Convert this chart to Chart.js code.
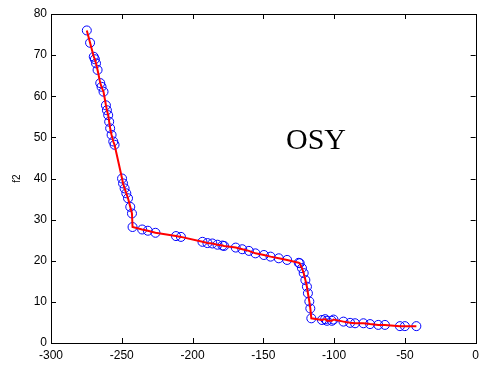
<!DOCTYPE html>
<html>
<head>
<meta charset="utf-8">
<script src="https://cdn.jsdelivr.net/npm/chart.js@4"></script>
<style>
  html, body { margin: 0; padding: 0; background: #fff; }
  #wrap { width: 484px; height: 367px; }
</style>
</head>
<body>
<div id="wrap"><canvas id="myChart" width="484" height="367"></canvas></div>
<script>
// pareto front points (f1, f2)
const f1 = [
  -274.7, -272.4, -269.8, -269.0, -268.2, -267.1, -265.2, -264.3, -262.9, -261.2,
  -260.5, -259.6, -258.9, -258.2, -257.2, -256.0, -255.1, -249.8, -249.1, -248.0,
  -246.8, -245.6, -244.0, -242.8, -242.4, -235.6, -231.6, -226.2, -211.7, -208.2,
  -193.0, -189.5, -186.0, -182.4, -178.9, -177.7, -169.5, -164.9, -160.2, -155.6,
  -149.6, -144.9, -139.1, -133.2, -125.0, -124.3, -122.7, -121.5, -120.3, -119.2,
  -118.5, -117.5, -116.8, -116.1, -108.6, -106.3, -105.1, -101.6, -100.4, -93.4,
  -88.7, -85.2, -79.3, -74.6, -68.8, -64.1, -53.5, -50.0, -41.9
];
const f2 = [
  76.0, 73.0, 69.6, 69.0, 68.0, 66.4, 63.2, 62.3, 61.1, 57.8,
  56.6, 55.4, 53.8, 52.2, 50.6, 49.0, 48.2, 40.0, 38.8, 37.6,
  36.4, 35.2, 33.1, 31.5, 28.2, 27.6, 27.3, 26.8, 26.0, 25.8,
  24.6, 24.3, 24.2, 23.9, 23.7, 23.6, 23.2, 22.8, 22.4, 21.8,
  21.4, 21.0, 20.6, 20.2, 19.5, 19.4, 18.2, 17.0, 15.3, 13.7,
  12.1, 10.1, 8.4, 6.0, 5.6, 5.8, 5.4, 5.4, 5.7, 5.2,
  4.9, 4.8, 4.8, 4.6, 4.4, 4.4, 4.1, 4.1, 4.1
];

const xTicks = [-300, -250, -200, -150, -100, -50, 0];
const yTicks = [0, 10, 20, 30, 40, 50, 60, 70, 80];

const points = f1.map((x, i) => ({ x: x, y: f2[i] }));

// box + inward tick marks on all four sides, y label, OSY text
const matlabAxes = {
  id: "matlabAxes",
  afterDraw(chart) {
    const ctx = chart.ctx;
    const a = chart.chartArea;
    const xs = chart.scales.x;
    const ys = chart.scales.y;
    ctx.save();
    ctx.strokeStyle = "#000";
    ctx.lineWidth = 1;
    ctx.strokeRect(Math.round(a.left) + 0.5, Math.round(a.top) + 0.5,
      Math.round(a.right - a.left), Math.round(a.bottom - a.top));
    ctx.beginPath();
    xTicks.forEach((v) => {
      const px = Math.round(xs.getPixelForValue(v)) + 0.5;
      ctx.moveTo(px, a.bottom); ctx.lineTo(px, a.bottom - 5);
      ctx.moveTo(px, a.top); ctx.lineTo(px, a.top + 5);
    });
    yTicks.forEach((v) => {
      const py = Math.round(ys.getPixelForValue(v)) + 0.5;
      ctx.moveTo(a.left, py); ctx.lineTo(a.left + 5, py);
      ctx.moveTo(a.right, py); ctx.lineTo(a.right - 5, py);
    });
    ctx.stroke();

    ctx.fillStyle = "#000";
    ctx.font = "10px 'Liberation Sans', Arial, sans-serif";
    ctx.textAlign = "center";
    ctx.textBaseline = "middle";
    ctx.translate(17, ys.getPixelForValue(40));
    ctx.rotate(-Math.PI / 2);
    ctx.fillText("f2", 0, 0);
    ctx.restore();

    ctx.save();
    ctx.fillStyle = "#000";
    ctx.font = "30px 'Liberation Serif', 'Times New Roman', serif";
    ctx.textAlign = "left";
    ctx.textBaseline = "alphabetic";
    ctx.fillText("OSY", xs.getPixelForValue(-134), ys.getPixelForValue(47.2));
    ctx.restore();
  },
};

const tickFont = { family: "'Liberation Sans', Arial, sans-serif", size: 12 };

const ctx = document.getElementById("myChart").getContext("2d");
const myChart = new Chart(ctx, {
  type: "scatter",
  data: {
    datasets: [
      {
        label: "line",
        data: points,
        showLine: true,
        borderColor: "#ff0000",
        borderWidth: 2,
        pointRadius: 0,
        order: 0,
      },
      {
        label: "points",
        data: points,
        showLine: false,
        pointStyle: "circle",
        pointRadius: 4.5,
        pointBorderWidth: 1,
        pointBorderColor: "#0000ff",
        pointBackgroundColor: "rgba(0,0,0,0)",
        order: 1,
      },
    ],
  },
  options: {
    responsive: false,
    animation: false,
    layout: { padding: { top: 14, right: 6, left: 0, bottom: 0 } },
    plugins: { legend: { display: false }, tooltip: { enabled: false } },
    scales: {
      x: {
        type: "linear",
        min: -300,
        max: 0,
        afterFit: (s) => { s.height = 24; },
        afterBuildTicks: (s) => { s.ticks = xTicks.map((v) => ({ value: v })); },
        grid: { display: false, drawTicks: false },
        border: { display: false },
        ticks: { color: "#000", font: tickFont, padding: 5, maxRotation: 0 },
      },
      y: {
        type: "linear",
        min: 0,
        max: 80,
        afterFit: (s) => { s.width = 51; },
        afterBuildTicks: (s) => { s.ticks = yTicks.map((v) => ({ value: v })); },
        grid: { display: false, drawTicks: false },
        border: { display: false },
        ticks: { color: "#000", font: tickFont, padding: 4 },
      },
    },
  },
  plugins: [matlabAxes],
});
</script>
</body>
</html>
